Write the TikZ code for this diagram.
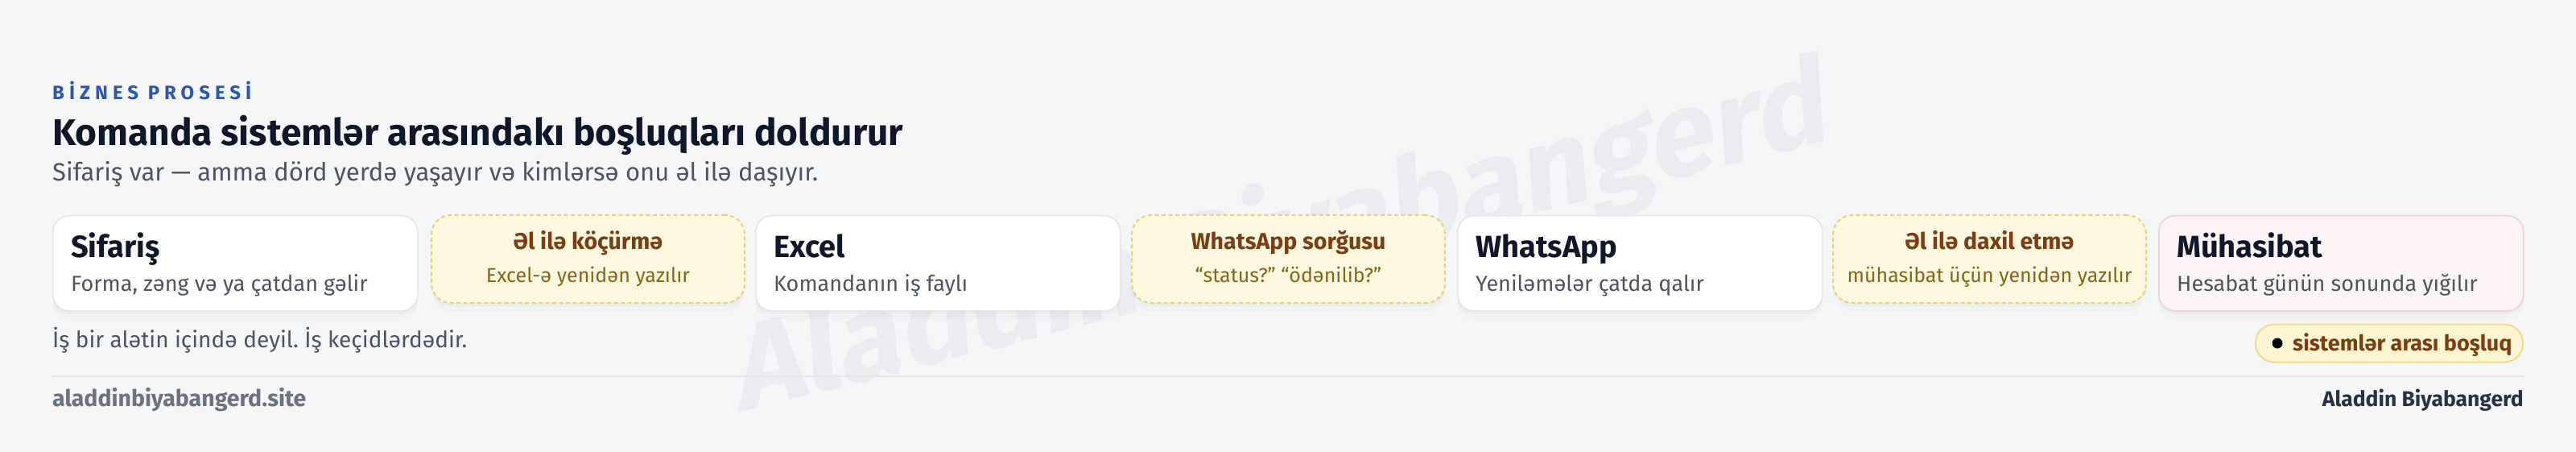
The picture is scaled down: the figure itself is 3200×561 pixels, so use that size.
\documentclass[tikz,border=0pt]{standalone}
\usepackage{fontspec}
\setmainfont{Fira Sans}
\definecolor{bgc}{HTML}{F5F6F8}
\definecolor{kick}{HTML}{2D57AE}
\definecolor{ttl}{HTML}{0F172A}
\definecolor{subg}{HTML}{4B5563}
\definecolor{wboxline}{HTML}{E3E6EA}
\definecolor{gapfill}{HTML}{FEF8E0}
\definecolor{gapline}{HTML}{E8D47C}
\definecolor{gapttl}{HTML}{7C3D12}
\definecolor{gapsub}{HTML}{866619}
\definecolor{pinkfill}{HTML}{FDF5F5}
\definecolor{pinkline}{HTML}{F0D2D2}
\definecolor{pillfill}{HTML}{FEF6D3}
\definecolor{pillline}{HTML}{F0DD8E}
\definecolor{wmc}{HTML}{EBECEF}
\definecolor{footl}{HTML}{6B7280}
\definecolor{footr}{HTML}{273244}
\newcommand\myfs[1]{\fontsize{#1}{#1}\selectfont}
\frenchspacing
\tikzset{
  softshadow/.style={
    preaction={fill=black, fill opacity=0.025, draw=none, transform canvas={yshift=-4pt}},
    preaction={fill=black, fill opacity=0.018, draw=none, transform canvas={yshift=-10pt}}},
  sysbox/.style={draw=wboxline, line width=1.5pt, fill=white, rounded corners=20pt,
    minimum width=453pt, minimum height=118pt, inner sep=0pt, anchor=north west, softshadow},
  gapbox/.style={draw=gapline, line width=2pt, dash pattern=on 5pt off 3.5pt, fill=gapfill, rounded corners=24pt,
    minimum width=389pt, minimum height=109pt, inner sep=0pt, anchor=north west, softshadow},
  systtl/.style={font=\bfseries\myfs{38}, text=ttl, anchor=base west, inner sep=0pt},
  syssub/.style={font=\myfs{27}, text=subg, anchor=base west, inner sep=0pt},
  gapttl/.style={font=\bfseries\myfs{28.5}, text=gapttl, anchor=base, inner sep=0pt},
  gapsub/.style={font=\myfs{25}, text=gapsub, anchor=base, inner sep=0pt},
}
\begin{document}
\begin{tikzpicture}[x=1pt,y=-1pt]
\useasboundingbox (0,0) rectangle (3200,561);
\fill[bgc] (0,0) rectangle (3200,561);

% watermark
\node[font=\bfseries\myfs{148}, text=wmc, rotate=14, xslant=0.18, inner sep=0pt] (wm) at (1594,298) {Aladdin Biyabangerd};

% header
\node[font=\bfseries\myfs{24}, text=kick, anchor=base west, inner sep=0pt] (kicker) at (65,124) {\addfontfeature{LetterSpace=25}BİZNES PROSESİ};
\node[font=\bfseries\myfs{46}, text=ttl, anchor=base west, inner sep=0pt] (title) at (65,181) {Komanda sistemlər arasındakı boşluqları doldurur};
\node[font=\myfs{31}, text=subg, anchor=base west, inner sep=0pt] (subtitle) at (65,225) {Sifariş var — amma dörd yerdə yaşayır və kimlərsə onu əl ilə daşıyır.};

% boxes
\node[sysbox] (b1) at (65,267) {};
\node[gapbox] (g1) at (535,266) {};
\node[sysbox] (b2) at (938,267) {};
\node[gapbox] (g2) at (1405,266) {};
\node[sysbox] (b3) at (1810,267) {};
\node[gapbox] (g3) at (2276,266) {};
\node[sysbox, fill=pinkfill, draw=pinkline] (b4) at (2681,267) {};

\node[systtl] (b1t) at ([xshift=23pt, yshift=-52pt]b1.north west) {Sifariş};
\node[syssub] (b1s) at ([xshift=23pt, yshift=-94pt]b1.north west) {Forma, zəng və ya çatdan gəlir};
\node[systtl] (b2t) at ([xshift=23pt, yshift=-52pt]b2.north west) {Excel};
\node[syssub] (b2s) at ([xshift=23pt, yshift=-94pt]b2.north west) {Komandanın iş faylı};
\node[systtl] (b3t) at ([xshift=23pt, yshift=-52pt]b3.north west) {WhatsApp};
\node[syssub] (b3s) at ([xshift=23pt, yshift=-94pt]b3.north west) {Yeniləmələr çatda qalır};
\node[systtl] (b4t) at ([xshift=23pt, yshift=-52pt]b4.north west) {Mühasibat};
\node[syssub] (b4s) at ([xshift=23pt, yshift=-94pt]b4.north west) {Hesabat günün sonunda yığılır};

\node[gapttl] (g1t) at ([yshift=-43pt]g1.north) {Əl ilə köçürmə};
\node[gapsub] (g1s) at ([yshift=-84pt]g1.north) {Excel-ə yenidən yazılır};
\node[gapttl] (g2t) at ([yshift=-43pt]g2.north) {WhatsApp sorğusu};
\node[gapsub] (g2s) at ([yshift=-84pt]g2.north) {“status?” “ödənilib?”};
\node[gapttl] (g3t) at ([yshift=-43pt]g3.north) {Əl ilə daxil etmə};
\node[gapsub] (g3s) at ([yshift=-84pt]g3.north) {mühasibat üçün yenidən yazılır};

% bottom note and legend pill
\node[font=\myfs{28}, text=subg, anchor=base west, inner sep=0pt] (note) at (65,431) {İş bir alətin içində deyil. İş keçidlərdədir.};
\node[draw=pillline, line width=2pt, fill=pillfill, rounded corners=23pt, minimum width=332pt, minimum height=47pt, inner sep=0pt, anchor=east] (pill) at (3135,426) {};
\fill[gapttl] ([xshift=28pt]pill.west) circle (6.5pt);
\node[font=\bfseries\myfs{27}, text=gapttl, anchor=base west, inner sep=0pt] (pillt) at ([xshift=47pt,yshift=-9pt]pill.west) {sistemlər arası boşluq};

% footer
\coordinate (sepl) at (65,467);
\coordinate (sepr) at (3135,467);
\draw[wboxline, line width=2pt] (sepl) -- (sepr);
\node[font=\bfseries\myfs{28.5}, text=footl, anchor=base west, inner sep=0pt] (footl) at (65,504) {aladdinbiyabangerd.site};
\node[font=\bfseries\myfs{26.5}, text=footr, anchor=base east, inner sep=0pt] (footr) at (3135,504) {Aladdin Biyabangerd};
\end{tikzpicture}
\end{document}
